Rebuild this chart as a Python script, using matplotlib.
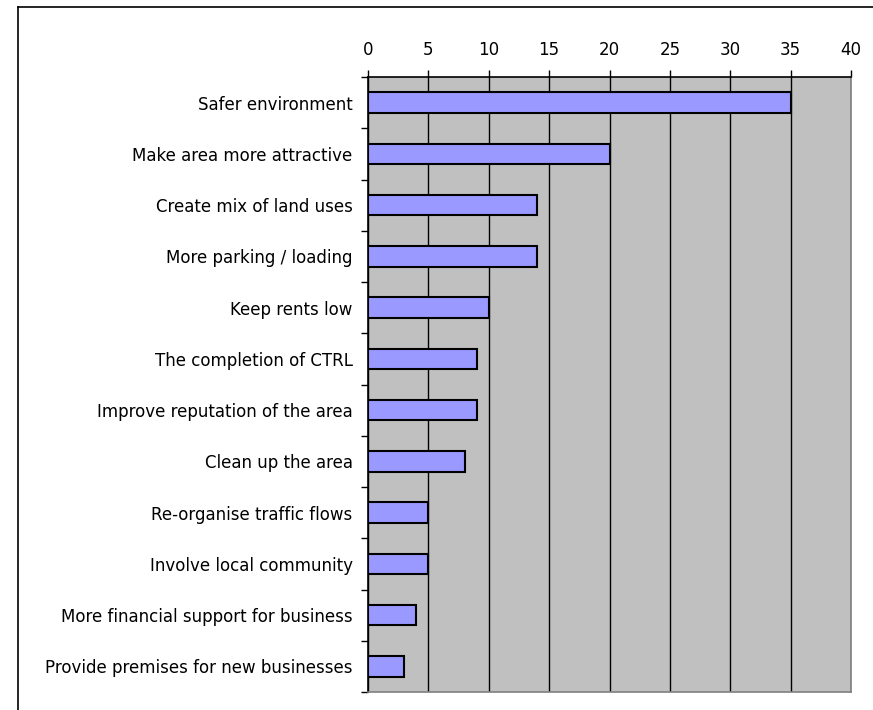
import matplotlib.pyplot as plt
from matplotlib.lines import Line2D

categories = ["Safer environment", "Make area more attractive", "Create mix of land uses",
              "More parking / loading", "Keep rents low", "The completion of CTRL",
              "Improve reputation of the area", "Clean up the area", "Re-organise traffic flows",
              "Involve local community", "More financial support for business",
              "Provide premises for new businesses"]
values = [35, 20, 14, 14, 10, 9, 9, 8, 5, 5, 4, 3]
x_ticks = [0, 5, 10, 15, 20, 25, 30, 35, 40]

plt.rcParams['font.family'] = ['DejaVu Sans']

fig = plt.figure(figsize=(8.73, 7.10), dpi=100)
ax = fig.add_axes([368 / 873, 1 - 692 / 710, (851 - 368) / 873, (692 - 77) / 710])

# outer chart border (top and left visible)
fig.add_artist(Line2D([18 / 873, 1], [1 - 7 / 710, 1 - 7 / 710], color='black', lw=1.2))
fig.add_artist(Line2D([18 / 873, 18 / 873], [0, 1 - 7 / 710], color='black', lw=1.2))

ax.set_facecolor('#C0C0C0')
pos = list(range(len(categories)))
ax.barh(pos, values, height=0.4, color='#9999FF', edgecolor='black', linewidth=1.5, zorder=3)

ax.set_xlim(0, 40)
ax.set_ylim(len(categories) - 0.5, -0.5)
ax.set_xticks(x_ticks)
ax.xaxis.tick_top()
ax.tick_params(axis='x', direction='out', length=5, width=1, labelsize=12, pad=8)
ax.grid(axis='x', color='black', linewidth=1, zorder=1)

ax.set_yticks([p - 0.5 for p in pos] + [len(categories) - 0.5])
ax.set_yticklabels([])
ax.set_yticks(pos, minor=True)
ax.set_yticklabels(categories, minor=True, fontsize=12)
ax.tick_params(axis='y', which='major', direction='out', length=5, width=1)
ax.tick_params(axis='y', which='minor', length=0, pad=11)

ax.spines['left'].set_color('black')
ax.spines['top'].set_color('black')
ax.spines['right'].set_color('#808080')
ax.spines['bottom'].set_color('#808080')
for s in ax.spines.values():
    s.set_linewidth(1.2)

fig.savefig('out.png', dpi=100)
